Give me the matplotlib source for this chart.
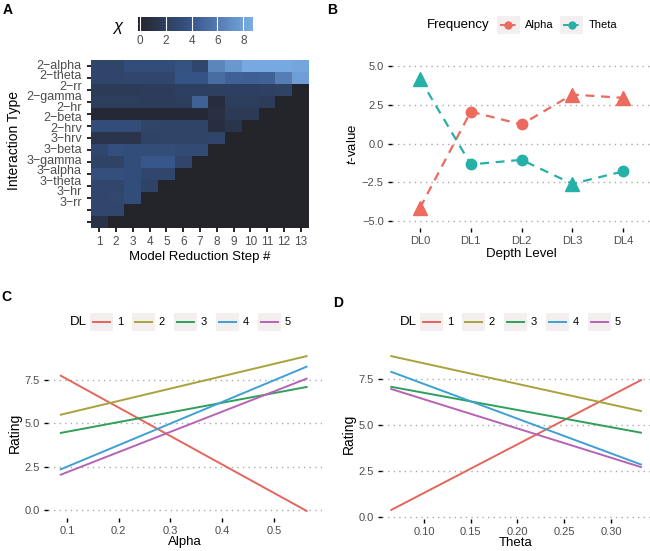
import matplotlib
matplotlib.use("Agg")
import matplotlib.pyplot as plt
import numpy as np
from matplotlib.colors import LinearSegmentedColormap
from matplotlib.patches import Rectangle
from matplotlib.lines import Line2D

plt.rcParams['font.family'] = ['Liberation Sans', 'DejaVu Sans']
plt.rcParams['mathtext.fontset'] = 'custom'
plt.rcParams['mathtext.rm'] = 'Liberation Sans'
plt.rcParams['mathtext.it'] = 'Liberation Sans:italic'

# ---------------- data ----------------
# Panel A: chi per interaction type and model reduction step (triangle)
interaction_types = ['2−alpha', '2−theta', '2−rr', '2−gamma', '2−hr', '2−beta', '2−hrv',
                     '3−hrv', '3−beta', '3−gamma', '3−alpha', '3−theta', '3−hr', '3−rr']
reduction_steps = list(range(1, 14))
chi_rows = [
    [2.6, 2.6, 3.3, 3.3, 3.3, 3.6, 2.7, 6.6, 7.6, 8.5, 8.5, 8.5, 8.3],
    [2.6, 2.6, 2.7, 2.7, 2.7, 3.8, 3.8, 5.3, 4.6, 4.5, 4.6, 6.2, 7.9],
    [1.8, 1.8, 1.8, 1.9, 1.9, 2.2, 2.2, 2.1, 2.2, 2.2, 2.3, 2.4],
    [2.0, 2.0, 2.0, 1.9, 1.9, 2.0, 4.6, 0.6, 2.0, 2.0, 1.9],
    [0.3, 0.3, 0.3, 0.3, 0.3, 0.3, 0.3, 0.8, 1.7, 1.7],
    [3.3, 3.3, 3.2, 2.6, 2.5, 2.5, 2.5, 0.7, 1.2],
    [1.3, 1.3, 1.3, 2.4, 2.5, 2.5, 2.5, 2.6],
    [2.7, 3.5, 3.3, 3.2, 3.2, 3.1, 3.1],
    [2.4, 2.4, 3.3, 4.0, 4.0, 2.6],
    [3.4, 3.4, 3.3, 2.7, 2.7],
    [2.7, 2.7, 3.3, 2.4],
    [2.7, 2.8, 3.3],
    [2.7, 2.7],
    [1.0],
]

# Panel B: t-values per depth level
depth_levels = ['DL0', 'DL1', 'DL2', 'DL3', 'DL4']
alpha_t = [-4.15, 2.06, 1.23, 3.16, 2.95]
theta_t = [4.17, -1.35, -1.05, -2.6, -1.8]
alpha_sig = [True, False, False, True, True]
theta_sig = [True, False, False, True, False]

# Panel C/D: fitted rating lines (endpoints) per DL
dl_names = ['1', '2', '3', '4', '5']
alpha_range = [0.088, 0.563]
alpha_rating = [[7.75, -0.05], [5.5, 8.88], [4.45, 7.1], [2.35, 8.27], [2.04, 7.58]]
theta_range = [0.065, 0.332]
theta_rating = [[0.4, 7.42], [8.72, 5.75], [7.06, 4.58], [7.87, 2.86], [6.94, 2.72]]

# ---------------- style ----------------
dl_colors = ['#E4655C', '#A9A23C', '#2F9F5B', '#3EA0D3', '#B763B5']
freq_colors = {'Alpha': '#EC6A5E', 'Theta': '#27B0A8'}
key_bg = '#F3EFEE'
tick_col = '#4D4D4D'
grid_kw = dict(color='#AAAAAA', linestyle=(0, (1, 3)), linewidth=1.0)
TICK_FS = 8
TITLE_FS = 9.5

W, H = 650, 551
fig = plt.figure(figsize=(W / 100, H / 100), dpi=100)


def px_axes(l, t, r, b):
    return fig.add_axes([l / W, 1 - b / H, (r - l) / W, (b - t) / H])


def fx(x):
    return x / W


def fy(y):
    return 1 - y / H


def style_axes(ax):
    for s in ax.spines.values():
        s.set_visible(False)
    ax.tick_params(length=3, width=1, color='black', labelsize=TICK_FS, labelcolor=tick_col, pad=3)
    ax.yaxis.grid(True, **grid_kw)
    ax.set_axisbelow(True)


def draw_key(x0, yc, color, ls='-', marker=None, w=23, h=18):
    fig.add_artist(Rectangle((fx(x0), fy(yc + h / 2)), w / W, h / H,
                             transform=fig.transFigure, color=key_bg, lw=0))
    fig.add_artist(Line2D([fx(x0 + 3), fx(x0 + w - 3)], [fy(yc), fy(yc)],
                          transform=fig.transFigure, color=color, lw=1.4, linestyle=ls))
    if marker:
        fig.add_artist(Line2D([fx(x0 + w / 2)], [fy(yc)], transform=fig.transFigure,
                              color=color, marker=marker, markersize=5, linestyle='none'))


# ---------------- Panel A ----------------
cmap = LinearSegmentedColormap.from_list('chi', [(0, '#24252D'), (4.15 / 8.9, '#37568A'), (1, '#7AAEE6')])
cmap.set_bad('#24252B')
vmin, vmax = -0.15, 8.75
grid = np.full((len(interaction_types), len(reduction_steps)), np.nan)
for i, row in enumerate(chi_rows):
    grid[i, :len(row)] = row

axa = px_axes(91, 60, 309, 228)
im = axa.imshow(grid, cmap=cmap, vmin=vmin, vmax=vmax, aspect='auto', interpolation='nearest')
for s in axa.spines.values():
    s.set_visible(False)
axa.set_xticks(range(len(reduction_steps)), [str(s) for s in reduction_steps])
axa.set_yticks(range(len(interaction_types)), [''] * len(interaction_types))
axa.tick_params(length=3, width=1.2, color='black', labelsize=8.5, labelcolor=tick_col, pad=3)
label_pos = np.linspace(0.966, 0.151, len(interaction_types))
for lab, yy in zip(interaction_types, label_pos):
    axa.text(-0.042, yy, lab, transform=axa.transAxes, ha='right', va='center',
             fontsize=9, color=tick_col)
axa.set_xlabel('Model Reduction Step #', fontsize=TITLE_FS, labelpad=2)
fig.text(fx(14), fy(140), 'Interaction Type', rotation=90, ha='center', va='center', fontsize=TITLE_FS + 0.5)

cax = px_axes(138, 17, 253, 31)
cb = fig.colorbar(im, cax=cax, orientation='horizontal')
cb.outline.set_visible(False)
cb.set_ticks([0, 2, 4, 6, 8])
cax.tick_params(length=0, labelsize=8.5, labelcolor=tick_col, pad=3)
for v in [0, 2, 4, 6, 8]:
    cax.axvline(v, color='white', lw=0.8)
fig.text(fx(118), fy(26), 'χ', fontstyle='italic', fontsize=12, ha='center', va='center')

# ---------------- Panel B ----------------
axb = px_axes(392, 60, 650, 228)
style_axes(axb)
xb = np.arange(len(depth_levels))
for name, vals, sig in [('Alpha', alpha_t, alpha_sig), ('Theta', theta_t, theta_sig)]:
    c = freq_colors[name]
    axb.plot(xb, vals, color=c, lw=1.6, linestyle=(0, (4, 3)), zorder=2)
    for x, v, s in zip(xb, vals, sig):
        axb.plot(x, v, marker='^' if s else 'o', markersize=9.5 if s else 7.5,
                 color=c, linestyle='none', zorder=3)
axb.set_xlim(-0.552, 4.532)
axb.set_ylim(-5.45, 5.39)
axb.set_xticks(xb, depth_levels)
axb.set_yticks([-5, -2.5, 0, 2.5, 5])
axb.set_xlabel('Depth Level', fontsize=TITLE_FS, labelpad=1)
axb.set_ylabel(r'$t$-value', fontsize=TITLE_FS, labelpad=2)

fig.text(fx(427), fy(25), 'Frequency', fontsize=TITLE_FS, ha='left', va='center')
draw_key(497, 25, freq_colors['Alpha'], ls=(0, (3, 2)), marker='o')
fig.text(fx(525), fy(25), 'Alpha', fontsize=8, ha='left', va='center')
draw_key(560, 25, freq_colors['Theta'], ls=(0, (3, 2)), marker='o')
fig.text(fx(589), fy(25), 'Theta', fontsize=8, ha='left', va='center')


# ---------------- Panel C & D ----------------
def rating_panel(box, xr, ratings, xlim, ylim, xticks, xfmt, xlabel, leg_x):
    ax = px_axes(*box)
    style_axes(ax)
    for r, c in zip(ratings, dl_colors):
        ax.plot(xr, r, color=c, lw=1.4)
    ax.set_xlim(*xlim)
    ax.set_ylim(*ylim)
    ax.set_xticks(xticks, [xfmt.format(t) for t in xticks])
    ax.set_yticks([0, 2.5, 5, 7.5], ['0.0', '2.5', '5.0', '7.5'])
    ax.set_xlabel(xlabel, fontsize=TITLE_FS, labelpad=0)
    ax.set_ylabel('Rating', fontsize=TITLE_FS + 0.5, labelpad=2)
    fig.text(fx(leg_x), fy(322), 'DL', fontsize=TITLE_FS, ha='left', va='center')
    for i, (n, c) in enumerate(zip(dl_names, dl_colors)):
        k = leg_x + 20 + 42 * i
        draw_key(k, 322, c)
        fig.text(fx(k + 30), fy(322), n, fontsize=8, ha='center', va='center')
    return ax


rating_panel((48, 348, 322, 518), alpha_range, alpha_rating, (0.0633, 0.5928), (-0.46, 9.35),
             [0.1, 0.2, 0.3, 0.4, 0.5], '{:.1f}', 'Alpha', 70)
rating_panel((382, 348, 650, 519), theta_range, theta_rating, (0.0551, 0.3417), (-0.09, 9.16),
             [0.10, 0.15, 0.20, 0.25, 0.30], '{:.2f}', 'Theta', 400)

# panel letters
for letter, x, y in [('A', 8, 10), ('B', 332, 10), ('C', 6, 297), ('D', 338, 303)]:
    fig.text(fx(x), fy(y), letter, fontsize=10, fontweight='bold', ha='center', va='center')

fig.savefig('out.png', dpi=100)
